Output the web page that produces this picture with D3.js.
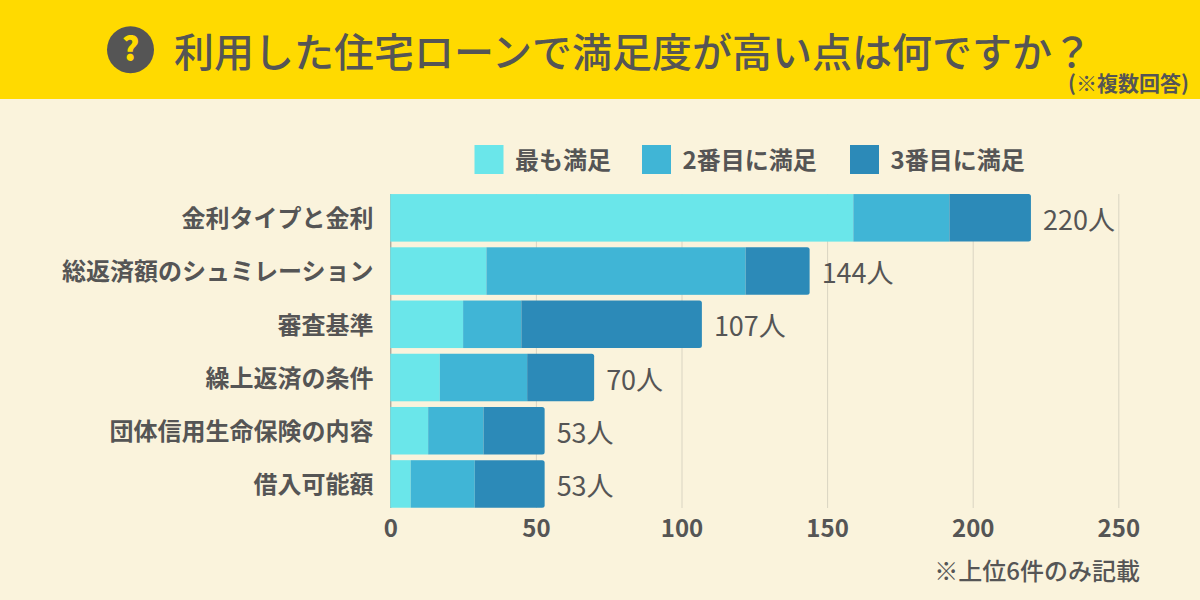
<!DOCTYPE html>
<html lang="ja"><head><meta charset="utf-8">
<script src="https://cdn.jsdelivr.net/npm/d3@7"></script>
<style>html,body{margin:0;padding:0;background:#FAF3DC}svg{display:block}text{font-family:"Noto Sans CJK JP","Noto Sans",sans-serif;fill:#555}</style>
</head><body><svg id="c" width="1200" height="600"></svg>
<script>
const titleText="利用した住宅ローンで満足度が高い点は何ですか？";
const subtitleText="(※複数回答)";
const footnote="※上位6件のみ記載";
const categories=["金利タイプと金利","総返済額のシュミレーション","審査基準","繰上返済の条件","団体信用生命保険の内容","借入可能額"];
const seriesNames=["最も満足","2番目に満足","3番目に満足"];
const seriesColors=["#6AE6EA","#40B5D6","#2C8AB8"];
const first=[159,33,25,17,13,7];
const second=[33,89,20,30,19,22];
const third=[28,22,62,23,21,24];
const totals=[220,144,107,70,53,53];
const ticks=[0,50,100,150,200,250];

const svg=d3.select("#c");
svg.append("rect").attr("width",1200).attr("height",600).attr("fill","#FAF3DC");
svg.append("rect").attr("width",1200).attr("height",99).attr("fill","#FFDA00");
svg.append("circle").attr("cx",130.5).attr("cy",49.7).attr("r",23.5).attr("fill","#555");
svg.append("text").attr("x",130.5).attr("y",61).attr("text-anchor","middle").attr("font-size",33).attr("font-weight",900).style("fill","#FFDA00").text("?");
svg.append("text").attr("x",174).attr("y",67).attr("font-size",40).attr("font-weight",500).text(titleText);
svg.append("text").attr("x",1189).attr("y",91).attr("text-anchor","end").attr("font-size",21).attr("font-weight",700).text(subtitleText);

const x=d3.scaleLinear().domain([0,250]).range([390.3,1118.3]);
const y=d3.scaleBand().domain(categories).range([191.2,510.6]).paddingInner(0.107).paddingOuter(0.054);

const grid=svg.append("g").attr("transform","translate(0,194)")
 .call(d3.axisBottom(x).tickValues(ticks).tickSize(314).tickSizeOuter(0));
grid.select(".domain").remove();
grid.selectAll(".tick line").attr("stroke","#D9D4C2").attr("stroke-width",1);
grid.selectAll(".tick").filter(d=>d===0).select("line").attr("stroke","#8f8c84");
grid.selectAll(".tick text").attr("y",336).attr("dy",0).attr("font-size",24).attr("font-weight",700)
 .style("font-family",'"Noto Sans CJK JP"').style("fill","#555").text(d=>d).attr("dominant-baseline","middle");

const rows=categories.map((c,i)=>({c,a:first[i],b:second[i],d:third[i]}));
const stack=d3.stack().keys(["a","b","d"])(rows);
stack.forEach((s,k)=>{
 const g=svg.append("g").attr("fill",seriesColors[k]);
 s.forEach((p,i)=>{
  const x0=x(p[0]),x1=x(p[1]),t=y(categories[i]),h=y.bandwidth();
  if(k===2){
   const r=2.5;
   g.append("path").attr("d",`M${x0},${t}H${x1-r}Q${x1},${t} ${x1},${t+r}V${t+h-r}Q${x1},${t+h} ${x1-r},${t+h}H${x0}Z`);
  } else g.append("rect").attr("x",x0).attr("y",t).attr("width",x1-x0).attr("height",h);
 });
});

categories.forEach((c,i)=>{
 const cy=y(c)+y.bandwidth()/2;
 svg.append("text").attr("x",373.5).attr("y",cy+1).attr("dy","0.35em").attr("text-anchor","end").attr("font-size",24).attr("font-weight",700).text(c);
 svg.append("text").attr("x",x(totals[i])+12).attr("y",cy+2).attr("dy","0.37em").attr("font-size",27).attr("font-weight",400).text(totals[i]+"人");
});

const legX=[474.5,642,850];
seriesNames.forEach((n,i)=>{
 svg.append("rect").attr("x",legX[i]).attr("y",145).attr("width",29).attr("height",29).attr("fill",seriesColors[i]);
 svg.append("text").attr("x",legX[i]+40.5).attr("y",169).attr("font-size",24).attr("font-weight",700).text(n);
});
svg.append("text").attr("x",1140).attr("y",580).attr("text-anchor","end").attr("font-size",24).attr("font-weight",500).text(footnote);
</script></body></html>
